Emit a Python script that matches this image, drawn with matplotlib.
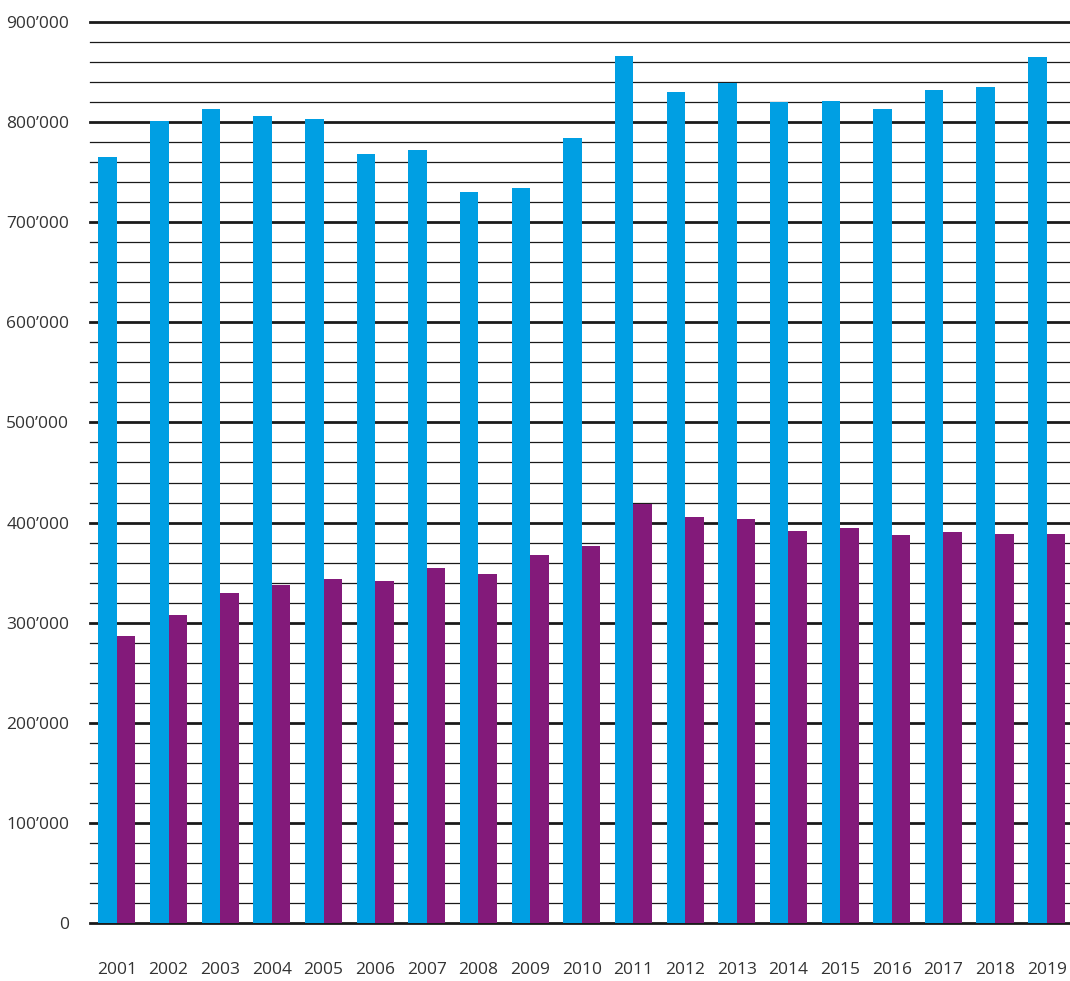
import numpy as np
import matplotlib.pyplot as plt
from matplotlib.ticker import FuncFormatter

plt.rcParams['font.family'] = ['Open Sans', 'DejaVu Sans']

years = [str(y) for y in range(2001, 2020)]
series_blue = [765000, 801000, 813000, 806000, 803000, 768000, 772000, 730000, 734000, 784000,
               866000, 830000, 839000, 820000, 821000, 813000, 832000, 835000, 865000]
series_purple = [287000, 308000, 330000, 338000, 344000, 342000, 355000, 349000, 368000, 377000,
                 419000, 406000, 404000, 392000, 395000, 388000, 391000, 389000, 389000]

fig = plt.figure(figsize=(10.7, 9.81), dpi=100)
ax = fig.add_axes([90 / 1070, 58 / 981, 980 / 1070, 901 / 981])

x = np.arange(len(years))
w = 0.36
ax.bar(x - w / 2, series_blue, w, color='#009fe3', zorder=3)
ax.bar(x + w / 2, series_purple, w, color='#831a7a', zorder=3)

for v in range(0, 900001, 20000):
    major = v % 100000 == 0
    ax.axhline(v, color='#1a1a1a', lw=2.0 if major else 0.9, zorder=1 if not major else 2,
               clip_on=False)

ax.set_xlim(-0.52, 18.45)
ax.set_ylim(0, 900000)
ax.set_yticks(range(0, 900001, 100000))
ax.yaxis.set_major_formatter(FuncFormatter(lambda v, p: f"{int(v):,}".replace(',', '\u2019')))
ax.set_xticks(x)
ax.set_xticklabels(years)
ax.tick_params(axis='both', length=0, labelsize=12.5, colors='#333333')
ax.tick_params(axis='y', pad=15)
ax.tick_params(axis='x', pad=28)
for s in ax.spines.values():
    s.set_visible(False)

fig.savefig('out.png', dpi=100)
